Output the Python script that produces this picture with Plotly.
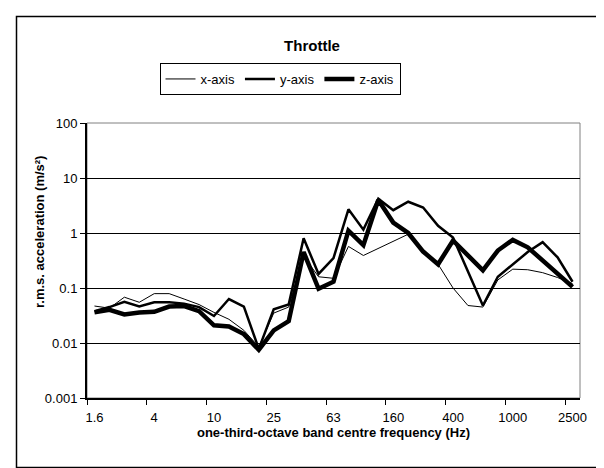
import plotly.graph_objects as go

bands = ["1.6", "2", "2.5", "3.15", "4", "5", "6.3", "8", "10", "12.5", "16", "20",
         "25", "31.5", "40", "50", "63", "80", "100", "125", "160", "200", "250",
         "315", "400", "500", "630", "800", "1000", "1250", "1600", "2000", "2500"]

x_axis = [0.047, 0.043, 0.068, 0.055, 0.079, 0.079, 0.063, 0.050, 0.036, 0.027, 0.017, 0.0085,
          0.035, 0.045, 0.38, 0.16, 0.15, 0.57, 0.39, 0.52, 0.70, 0.95, 0.45,
          0.27, 0.10, 0.048, 0.045, 0.14, 0.22, 0.215, 0.19, 0.155, 0.12]

y_axis = [0.038, 0.045, 0.056, 0.046, 0.055, 0.055, 0.052, 0.045, 0.031, 0.063, 0.046, 0.0078,
          0.041, 0.050, 0.80, 0.18, 0.35, 2.7, 1.15, 4.2, 2.6, 3.7, 2.9,
          1.35, 0.83, 0.20, 0.048, 0.16, 0.27, 0.45, 0.68, 0.36, 0.13]

z_axis = [0.036, 0.040, 0.033, 0.036, 0.037, 0.046, 0.047, 0.038, 0.021, 0.020, 0.0145, 0.0075,
          0.017, 0.025, 0.45, 0.097, 0.13, 1.1, 0.60, 4.0, 1.55, 1.0, 0.46,
          0.27, 0.73, 0.39, 0.21, 0.48, 0.75, 0.55, 0.32, 0.18, 0.105]

y_ticks = [0.001, 0.01, 0.1, 1, 10, 100]
y_ticktext = ["0.001", "0.01", "0.1", "1", "10", "100"]

idx = list(range(len(bands)))
FONT = "Liberation Sans, Arial, sans-serif"

fig = go.Figure()
for name, vals, w in [("x-axis", x_axis, 1), ("y-axis", y_axis, 2.5), ("z-axis", z_axis, 4.5)]:
    fig.add_trace(go.Scatter(x=idx, y=vals, mode="lines", name=name,
                             line=dict(color="black", width=w)))

W, H = 604, 468
L, R, T, B = 79, 32, 115, 78
pw, ph = W - L - R, H - T - B

def px_x(p):
    return (p - L) / pw

def px_y(p):
    return (H - B - p) / ph

fig.update_layout(
    width=W, height=H,
    margin=dict(l=L, r=R, t=T, b=B),
    paper_bgcolor="white", plot_bgcolor="white",
    font=dict(family=FONT, size=13, color="black"),
    title=dict(text="Throttle", font=dict(family=FONT, size=15, weight="bold"),
               x=px_x(304), xref="paper", xanchor="center",
               y=1 - 38 / H, yref="container", yanchor="middle"),
    legend=dict(orientation="h", x=px_x(272), xanchor="center", y=px_y(55), yanchor="top",
                bordercolor="black", borderwidth=1, font=dict(size=13),
                itemwidth=30, tracegroupgap=0),
    showlegend=True,
    xaxis=dict(range=[-0.5, len(bands) - 0.5], tickvals=idx[::4],
               ticktext=bands[::4], ticks="outside", ticklen=6,
               tickcolor="rgba(0,0,0,0)", showgrid=False, zeroline=False,
               showline=True, linecolor="black", linewidth=2,
               minor=dict(tick0=-0.5, dtick=4, ticks="outside", ticklen=5,
                          tickcolor="black", tickwidth=1, showgrid=False),
               title=dict(text="one-third-octave band centre frequency (Hz)",
                          font=dict(size=13, weight="bold"), standoff=3)),
    yaxis=dict(type="log", range=[-3, 2], tickvals=y_ticks, ticktext=y_ticktext,
               ticks="outside", ticklen=5, tickcolor="black",
               showgrid=True, gridcolor="black", gridwidth=1, zeroline=False,
               showline=True, linecolor="black", linewidth=2),
    annotations=[
        dict(text="<b>r.m.s. acceleration (m/s²)</b>", textangle=-90,
             xref="paper", yref="paper", x=px_x(31), y=px_y(224),
             xanchor="center", yanchor="middle", showarrow=False,
             font=dict(size=13)),
    ],
    shapes=[
        dict(type="rect", xref="paper", yref="paper", x0=0, x1=1, y0=0, y1=1,
             line=dict(color="#808080", width=1), layer="below"),
        dict(type="rect", xref="paper", yref="paper",
             x0=px_x(8.5), x1=px_x(595.5), y0=px_y(459.5), y1=px_y(8.5),
             line=dict(color="black", width=1.5)),
    ],
)

fig.write_html("out.html")
